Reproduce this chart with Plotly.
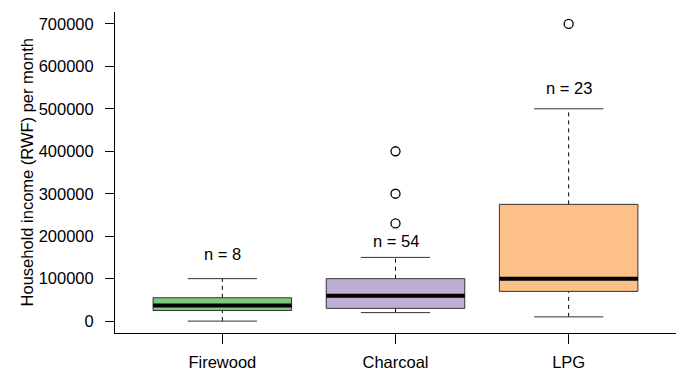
import plotly.graph_objects as go

categories = ["Firewood", "Charcoal", "LPG"]
lower_whisker = [0, 20000, 10000]
q1 = [25000, 30000, 70000]
median = [37000, 60000, 100000]
q3 = [55000, 100000, 275000]
upper_whisker = [100000, 150000, 500000]
outliers = [[], [230000, 300000, 400000], [700000]]
n_counts = [8, 54, 23]
n_label_y = [157000, 188000, 548000]
colors = ["#7FC97F", "#BEAED4", "#FDC086"]
y_ticks = [0, 100000, 200000, 300000, 400000, 500000, 600000, 700000]

BOX_HALF = 0.4
CAP_HALF = 0.2
FONT = "Liberation Sans, Arial, sans-serif"
LINE_COL = "#333333"

fig = go.Figure()
for i, cat in enumerate(categories):
    p = i + 1
    # whiskers (dashed)
    fig.add_trace(go.Scatter(x=[p, p], y=[q3[i], upper_whisker[i]], mode="lines",
                             line=dict(color="black", width=1, dash="4px,4px"),
                             showlegend=False, hoverinfo="skip"))
    fig.add_trace(go.Scatter(x=[p, p], y=[lower_whisker[i], q1[i]], mode="lines",
                             line=dict(color="black", width=1, dash="4px,4px"),
                             showlegend=False, hoverinfo="skip"))
    # caps
    for v in (upper_whisker[i], lower_whisker[i]):
        fig.add_trace(go.Scatter(x=[p - CAP_HALF, p + CAP_HALF], y=[v, v], mode="lines",
                                 line=dict(color=LINE_COL, width=1),
                                 showlegend=False, hoverinfo="skip"))
    # box
    fig.add_trace(go.Scatter(x=[p - BOX_HALF, p + BOX_HALF, p + BOX_HALF, p - BOX_HALF, p - BOX_HALF],
                             y=[q1[i], q1[i], q3[i], q3[i], q1[i]], mode="lines",
                             fill="toself", fillcolor=colors[i],
                             line=dict(color=LINE_COL, width=1),
                             showlegend=False, hoverinfo="skip"))
    # median
    fig.add_trace(go.Scatter(x=[p - BOX_HALF, p + BOX_HALF], y=[median[i], median[i]], mode="lines",
                             line=dict(color="black", width=4),
                             showlegend=False, hoverinfo="skip"))
    # outliers
    if outliers[i]:
        fig.add_trace(go.Scatter(x=[p] * len(outliers[i]), y=outliers[i], mode="markers",
                                 marker=dict(symbol="circle-open", size=9, color="black",
                                             line=dict(width=1.3)),
                                 showlegend=False, hoverinfo="skip"))
    fig.add_annotation(x=p, y=n_label_y[i], xref="x", yref="y", text=f"n = {n_counts[i]}",
                       showarrow=False, font=dict(family=FONT, size=16.5, color="black"))

fig.add_annotation(x=-0.157, y=0.5, xref="paper", yref="paper", textangle=-90,
                   xanchor="center", yanchor="middle",
                   text="Household income (RWF) per month", showarrow=False,
                   font=dict(family=FONT, size=16.5, color="black"))

fig.update_layout(
    width=682, height=371,
    margin=dict(l=115, r=6, t=12, b=38, autoexpand=False),
    paper_bgcolor="white", plot_bgcolor="white",
    font=dict(family=FONT, size=16.5, color="black"),
    xaxis=dict(range=[0.38, 3.62], tickvals=[1, 2, 3], ticktext=categories,
               showline=True, linecolor="black", linewidth=1, mirror=False,
               ticks="outside", ticklen=10, tickcolor="black", showgrid=False,
               zeroline=False, automargin=False, ticklabelstandoff=4,
               tickfont=dict(family=FONT, size=16.5, color="black")),
    yaxis=dict(range=[-28000, 728000], tickvals=y_ticks, ticktext=[str(v) for v in y_ticks],
               showline=True, linecolor="black", linewidth=1, mirror=False,
               ticks="outside", ticklen=9, tickcolor="black", showgrid=False,
               zeroline=False, automargin=False, ticklabelstandoff=8,
               tickfont=dict(family=FONT, size=16.5, color="black")),
)

fig.write_html("out.html")
